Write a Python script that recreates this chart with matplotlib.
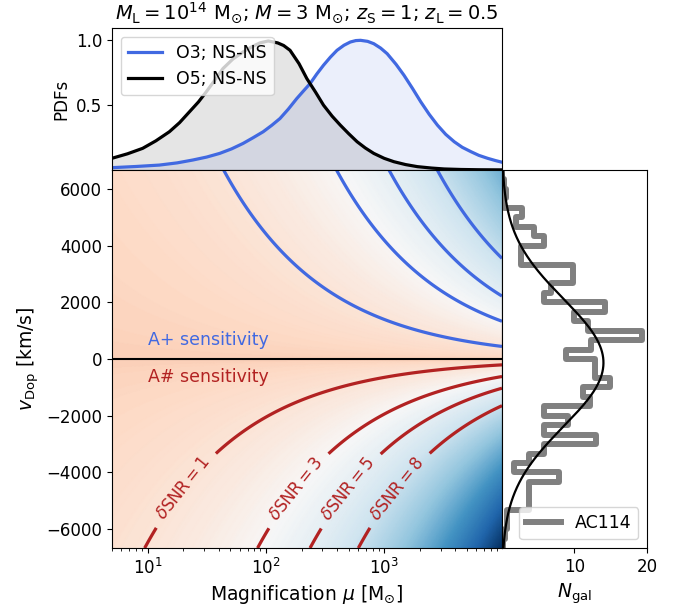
import numpy as np
import matplotlib
matplotlib.use('Agg')
import matplotlib.pyplot as plt
from matplotlib.colors import ListedColormap, PowerNorm

# =====================================
# DATA
# =====================================

# top panel: normalised PDFs of the magnification (log10 mu, value)
o3_logmu = [0.697, 0.9, 1.099, 1.25, 1.382, 1.5, 1.609, 1.71, 1.807, 1.89, 1.977,
            2.05, 2.119, 2.19, 2.261, 2.32, 2.374, 2.43, 2.487, 2.545, 2.601,
            2.66, 2.714, 2.76, 2.80, 2.86, 2.912, 2.97, 3.025, 3.10, 3.167, 3.24,
            3.309, 3.38, 3.45, 3.52, 3.592, 3.66, 3.734, 3.80, 3.875, 3.94, 4.0]
o3_pdf = [0.018, 0.027, 0.038, 0.055, 0.077, 0.10, 0.128, 0.163, 0.205, 0.248,
          0.295, 0.345, 0.397, 0.470, 0.551, 0.612, 0.667, 0.740, 0.808, 0.870,
          0.923, 0.962, 0.987, 0.998, 1.0, 0.992, 0.974, 0.940, 0.897, 0.815,
          0.731, 0.628, 0.526, 0.43, 0.346, 0.275, 0.218, 0.175, 0.141, 0.113,
          0.090, 0.073, 0.059]

o5_logmu = [0.697, 0.83, 0.958, 1.07, 1.184, 1.27, 1.354, 1.43, 1.496, 1.57,
            1.637, 1.72, 1.807, 1.88, 1.949, 2.02, 2.1, 2.15, 2.204, 2.28, 2.346,
            2.42, 2.487, 2.56, 2.629, 2.70, 2.771, 2.84, 2.912, 3.0, 3.082, 3.18,
            3.28, 3.4, 3.507, 3.65, 3.8, 4.0]
o5_pdf = [0.090, 0.125, 0.167, 0.225, 0.295, 0.365, 0.449, 0.525, 0.603, 0.695,
          0.782, 0.855, 0.910, 0.950, 0.980, 0.995, 0.980, 0.960, 0.923, 0.82,
          0.705, 0.60, 0.50, 0.415, 0.346, 0.28, 0.218, 0.17, 0.128, 0.09, 0.064,
          0.042, 0.026, 0.015, 0.008, 0.004, 0.002, 0.001]

k_aplus = 44200.0     # v > 0, A+ sensitivity
k_asharp = 20500.0    # v < 0, A# sensitivity
snr_levels = [1, 3, 5, 8]
label_mu = [20.5, 182, 500, 1315]
label_v = -4600
mu_min, mu_max = 5, 9900
v_lim = 6670

# right panel: AC114 galaxy velocities, counts per bin from top (high v) to bottom
gal_counts_top_down = [0, 0.3, 0.6, 0.3, 2.8, 1.9, 4.4, 5.8, 2.6, 2.6,
                       9.8, 9.8, 6.7, 5.8, 14.2, 10.0, 11.9, 19.3, 12.3, 8.8,
                       12.8, 12.8, 14.9, 11.2, 12.1, 5.8, 9.1, 5.8, 13.0, 5.8,
                       3.7, 1.6, 7.9, 3.7, 3.7, 3.7, 0.7, 0.7, 0.4, 0.2]
gauss_amp = 14.0
gauss_mean = -130.0
gauss_sigma = 2250.0

title = (r'$M_{\rm L}=10^{14}\ {\rm M}_{\odot}$; $M=3\ {\rm M}_{\odot}$; '
         r'$z_{\rm S}=1$; $z_{\rm L}=0.5$')

# =====================================
# FIGURE / AXES
# =====================================

fig = plt.figure(figsize=(6.8, 6.1), dpi=100)
ax_top = fig.add_axes([0.1647, 0.7213, 0.5735, 0.2328])
ax = fig.add_axes([0.1647, 0.1016, 0.5735, 0.6197])
ax_r = fig.add_axes([0.7382, 0.1016, 0.2132, 0.6197])

# =====================================
# TOP PANEL
# =====================================

mu_o3 = 10 ** np.array(o3_logmu)
mu_o5 = 10 ** np.array(o5_logmu)
ax_top.plot(mu_o3, o3_pdf, color='royalblue', lw=2.3, label='O3; NS-NS')
ax_top.fill_between(mu_o3, 0, o3_pdf, color='royalblue', alpha=0.1, lw=0)
ax_top.plot(mu_o5, o5_pdf, color='black', lw=2.3, label='O5; NS-NS')
ax_top.fill_between(mu_o5, 0, o5_pdf, color='black', alpha=0.1, lw=0)
ax_top.set_xscale('log')
ax_top.set_xlim(mu_min, mu_max)
ax_top.set_ylim(0, 1.095)
ax_top.set_yticks([0.5, 1.0])
ax_top.set_ylabel('PDFs', fontsize=12)
ax_top.tick_params(axis='x', which='both', bottom=False, labelbottom=False)
ax_top.tick_params(axis='y', labelsize=12)
ax_top.legend(loc='upper left', fontsize=12.5)
ax_top.set_title(title, fontsize=14)

# =====================================
# MAIN PANEL
# =====================================

ax.set_xscale('log')
ax.set_xlim(mu_min, mu_max)
ax.set_ylim(-v_lim, v_lim)

mu_grid = np.logspace(np.log10(mu_min), np.log10(mu_max), 500)
v_grid = np.linspace(-v_lim, v_lim, 501)
MU, V = np.meshgrid(mu_grid, v_grid)
dsnr = np.sqrt(MU) * np.abs(V) / np.where(V > 0, k_aplus, k_asharp)

# peach (no signal) -> white -> dark blue
bg_cmap = ListedColormap(plt.get_cmap('RdBu')(np.linspace(0.38, 1.0, 256)))
ax.pcolormesh(MU, V, dsnr, cmap=bg_cmap, norm=PowerNorm(0.7, vmin=0, vmax=32.5),
              shading='gouraud', rasterized=True)

up = np.ma.masked_where(V < 0, dsnr)
low = np.ma.masked_where(V > 0, dsnr)
ax.contour(MU, V, up, levels=snr_levels, colors='royalblue', linewidths=2.3)
cs = ax.contour(MU, V, low, levels=snr_levels, colors='firebrick', linewidths=2.3)
ax.clabel(cs, fmt=lambda l: r'$\delta{\rm SNR}=%d$' % l, fontsize=12,
          manual=[(m, label_v) for m in label_mu], inline=True, inline_spacing=10)

ax.axhline(0, color='black', lw=1.5)
ax.text(10, 680, 'A+ sensitivity', color='royalblue', fontsize=12.5, va='center')
ax.text(10, -620, 'A# sensitivity', color='firebrick', fontsize=12.5, va='center')

ax.set_yticks([-6000, -4000, -2000, 0, 2000, 4000, 6000])
ax.tick_params(labelsize=12)
ax.set_xlabel(r'Magnification $\mu$ [M$_{\odot}$]', fontsize=13.5)
ax.set_ylabel(r'$v_{\rm Dop}$ [km/s]', fontsize=13.5)

# =====================================
# RIGHT PANEL
# =====================================

edges = np.linspace(-v_lim, v_lim, len(gal_counts_top_down) + 1)
counts = np.array(gal_counts_top_down[::-1])
steps = ax_r.stairs(counts, edges, orientation='horizontal', color='gray', lw=4.3,
                    label='AC114')
steps.set_joinstyle('round')
steps.set_capstyle('round')
vv = np.linspace(-v_lim, v_lim, 400)
ax_r.plot(gauss_amp * np.exp(-0.5 * ((vv - gauss_mean) / gauss_sigma) ** 2), vv,
          color='black', lw=1.6)
ax_r.set_xlim(0, 20)
ax_r.set_ylim(-v_lim, v_lim)
ax_r.set_xticks([10, 20])
ax_r.tick_params(axis='y', left=False, labelleft=False)
ax_r.tick_params(labelsize=12)
ax_r.set_xlabel(r'$N_{\rm gal}$', fontsize=13.5)
ax_r.legend(loc='lower right', fontsize=12.5)

fig.savefig('out.png', dpi=100)
